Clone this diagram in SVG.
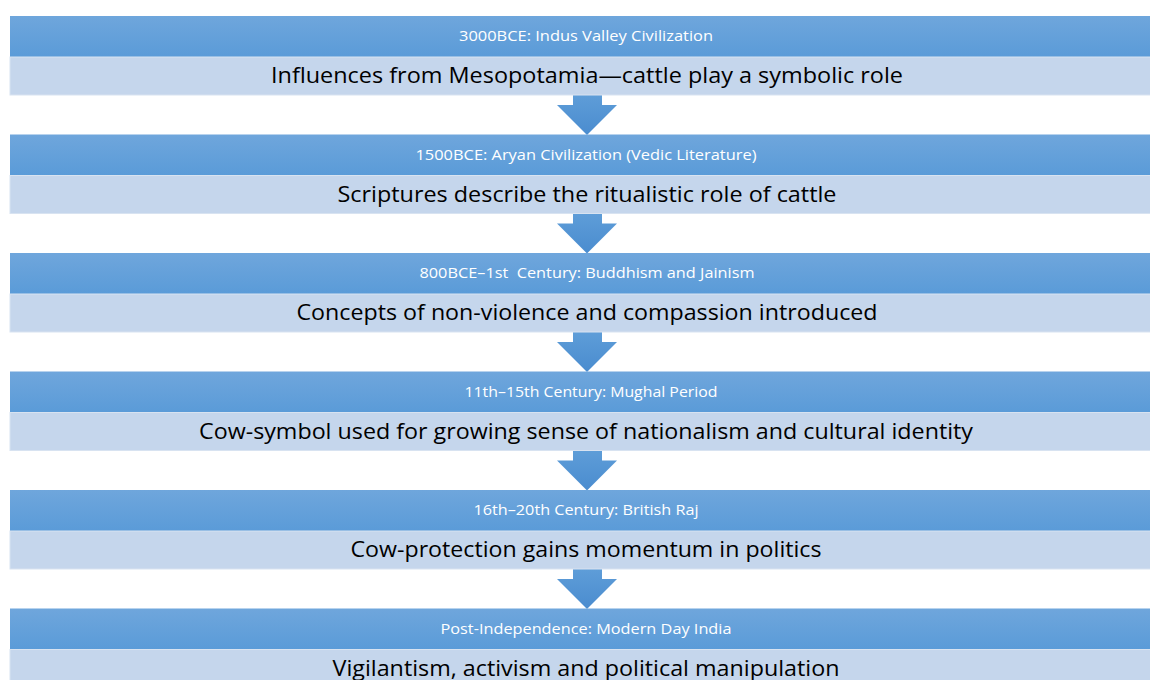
<svg xmlns="http://www.w3.org/2000/svg" width="1150" height="680" viewBox="0 0 1150 680">
<defs>
<linearGradient id="hg" x1="0" y1="0" x2="0" y2="1">
<stop offset="0" stop-color="#6fa6dc"/>
<stop offset="1" stop-color="#5a9bd8"/>
</linearGradient>
<linearGradient id="ag" x1="0" y1="0" x2="0" y2="1">
<stop offset="0" stop-color="#5e9dd8"/>
<stop offset="1" stop-color="#4a8ccf"/>
</linearGradient>
<style>
.hd{fill:url(#hg)}
.bd{fill:#c5d6ec;stroke:#d8e3f1;stroke-width:1}
.ht{font-family:"Open Sans","Noto Sans",sans-serif;font-size:14px;fill:#ffffff;text-anchor:middle}
.bt{font-family:"Open Sans","Noto Sans",sans-serif;font-size:21px;fill:#000000;text-anchor:middle}
.ar{fill:url(#ag)}
</style>
</defs>
<rect width="1150" height="680" fill="#ffffff"/>
<g id="connectors">
<polygon class="ar" points="573,95 602,95 602,105 617,105 587,135 557,105 573,105"/>
<polygon class="ar" points="573,213.5 602,213.5 602,223.5 617,223.5 587,253.5 557,223.5 573,223.5"/>
<polygon class="ar" points="573,332 602,332 602,342 617,342 587,372 557,342 573,342"/>
<polygon class="ar" points="573,450.5 602,450.5 602,460.5 617,460.5 587,490.5 557,460.5 573,460.5"/>
<polygon class="ar" points="573,569 602,569 602,579 617,579 587,609 557,579 573,579"/>
</g>
<g id="node1">
<rect class="hd" x="10" y="16" width="1150" height="41"/>
<rect class="bd" x="10" y="57" width="1150" height="38"/>
<text class="ht" x="586" y="41" textLength="254" lengthAdjust="spacingAndGlyphs">3000BCE: Indus Valley Civilization</text>
<text class="bt" x="587" y="83" textLength="632" lengthAdjust="spacingAndGlyphs">Influences from Mesopotamia—cattle play a symbolic role</text>
</g>
<g id="node2">
<rect class="hd" x="10" y="134.5" width="1150" height="41"/>
<rect class="bd" x="10" y="175.5" width="1150" height="38"/>
<text class="ht" x="586" y="159.5" textLength="341" lengthAdjust="spacingAndGlyphs">1500BCE: Aryan Civilization (Vedic Literature)</text>
<text class="bt" x="587" y="201.5" textLength="499" lengthAdjust="spacingAndGlyphs">Scriptures describe the ritualistic role of cattle</text>
</g>
<g id="node3">
<rect class="hd" x="10" y="253" width="1150" height="41"/>
<rect class="bd" x="10" y="294" width="1150" height="38"/>
<text class="ht" x="587" y="278" textLength="335" lengthAdjust="spacingAndGlyphs" xml:space="preserve">800BCE–1st  Century: Buddhism and Jainism</text>
<text class="bt" x="587" y="320" textLength="581" lengthAdjust="spacingAndGlyphs">Concepts of non-violence and compassion introduced</text>
</g>
<g id="node4">
<rect class="hd" x="10" y="371.5" width="1150" height="41"/>
<rect class="bd" x="10" y="412.5" width="1150" height="38"/>
<text class="ht" x="591" y="396.5" textLength="253" lengthAdjust="spacingAndGlyphs">11th–15th Century: Mughal Period</text>
<text class="bt" x="586" y="438.5" textLength="774" lengthAdjust="spacingAndGlyphs">Cow-symbol used for growing sense of nationalism and cultural identity</text>
</g>
<g id="node5">
<rect class="hd" x="10" y="490" width="1150" height="41"/>
<rect class="bd" x="10" y="531" width="1150" height="38"/>
<text class="ht" x="586" y="515" textLength="225" lengthAdjust="spacingAndGlyphs">16th–20th Century: British Raj</text>
<text class="bt" x="586" y="557" textLength="471" lengthAdjust="spacingAndGlyphs">Cow-protection gains momentum in politics</text>
</g>
<g id="node6">
<rect class="hd" x="10" y="608.5" width="1150" height="41"/>
<rect class="bd" x="10" y="649.5" width="1150" height="38"/>
<text class="ht" x="586" y="633.5" textLength="291" lengthAdjust="spacingAndGlyphs">Post-Independence: Modern Day India</text>
<text class="bt" x="586" y="675.5" textLength="507" lengthAdjust="spacingAndGlyphs">Vigilantism, activism and political manipulation</text>
</g>
</svg>
